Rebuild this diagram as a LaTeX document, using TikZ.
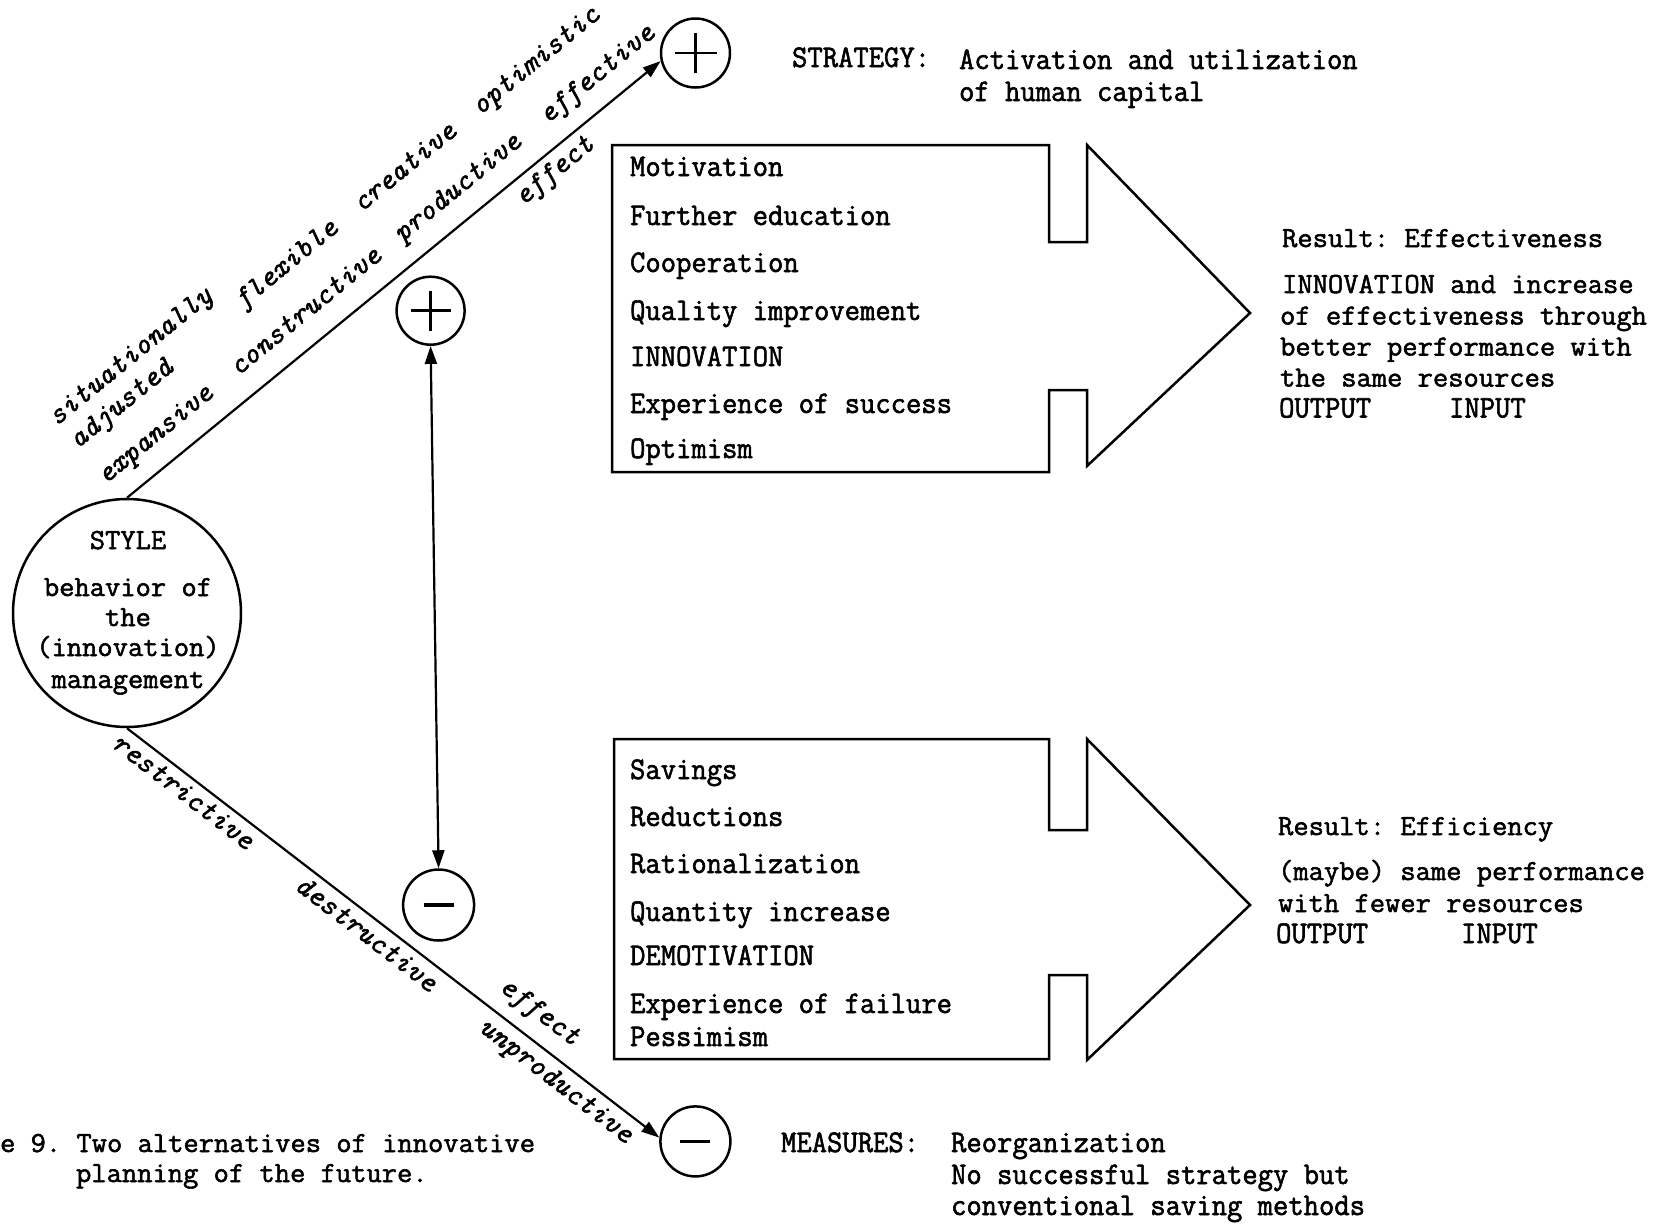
\documentclass[tikz,border=0pt]{standalone}
\usepackage{fontspec}
\usetikzlibrary{arrows.meta}
\newfontfamily\widefont[FakeStretch=1.02,FakeBold=1.8]{Latin Modern Mono}
\newfontfamily\narrowfont[FakeStretch=0.945,FakeBold=1.8]{Latin Modern Mono}
\frenchspacing
\begin{document}
\begin{tikzpicture}[x=1pt,y=-1pt,line width=2.2pt,
  ring/.style={circle,draw,line width=2.5pt,inner sep=0pt},
  boxtxt/.style={anchor=base west,inner sep=0pt,font=\narrowfont\frenchspacing\fontsize{31.5}{33}\selectfont},
  restxt/.style={anchor=base west,inner sep=0pt,font=\widefont\frenchspacing\fontsize{29.1}{31}\selectfont},
  circtxt/.style={anchor=base,inner sep=0pt,font=\widefont\fontsize{29.1}{31}\selectfont},
  lbl/.style={anchor=mid,inner sep=0pt,font=\widefont\itshape\fontsize{29.1}{31}\selectfont},
  tipend/.style={-{Triangle[length=18pt,width=12pt]}},
  tipboth/.style={{Triangle[length=18pt,width=12pt]}-{Triangle[length=18pt,width=12pt]}},
  shapeline/.style={line width=2.5pt,line join=miter}]
\useasboundingbox (0,0) rectangle (1657,1224);
\fill[white] (0,0) rectangle (1657,1224);

% circles
\node[ring,minimum size=228pt] (style) at (127,613) {};
\node[circtxt] (st1) at (128,549) {STYLE};
\node[circtxt] (st2) at (128,596) {behavior of};
\node[circtxt] (st3) at (128,626) {the};
\node[circtxt] (st4) at (128,656) {(innovation)};
\node[circtxt] (st5) at (128,688) {management};
\node[ring,minimum size=69pt] (plusA) at (695.5,53) {};
\node[ring,minimum size=68pt] (plusB) at (430.6,310.7) {};
\node[ring,minimum size=71pt] (minusA) at (438.6,905) {};
\node[ring,minimum size=70pt] (minusB) at (695.4,1141.4) {};

% signs
\draw[line width=2.8pt] ([xshift=-21pt]plusA.center) -- ([xshift=21pt]plusA.center);
\draw[line width=2.8pt] ([yshift=-20pt]plusA.center) -- ([yshift=20pt]plusA.center);
\draw[line width=2.8pt] ([xshift=-20pt]plusB.center) -- ([xshift=20pt]plusB.center);
\draw[line width=2.8pt] ([yshift=-20pt]plusB.center) -- ([yshift=20pt]plusB.center);
\draw[line width=3.6pt] ([xshift=-15pt]minusA.center) -- ([xshift=15pt]minusA.center);
\draw[line width=3.6pt] ([xshift=-15pt]minusB.center) -- ([xshift=15pt]minusB.center);

% connectors
\draw[tipend] (style.north) -- (plusA.193);
\draw[tipend] (style.south) -- (minusB.174);
\draw[tipboth] (plusB.south) -- (minusA.north);

% labels along upper line
\begin{scope}[shift={(style.north)},rotate=39.2]
  \node[lbl,rotate=39.2] (lsit) at (92,-102) {situationally};
  \node[lbl,rotate=39.2] (ladj) at (55,-71) {adjusted};
  \node[lbl,rotate=39.2] (lflex) at (271,-75) {flexible};
  \node[lbl,rotate=39.2] (lcrea) at (424,-75) {creative};
  \node[lbl,rotate=39.2] (lopt) at (593,-75) {optimistic};
  \node[lbl,rotate=39.2] (lexp) at (62,-26) {expansive};
  \node[lbl,rotate=39.2] (lcons) at (256,-26) {constructive};
  \node[lbl,rotate=39.2] (lprod) at (452,-26) {productive};
  \node[lbl,rotate=39.2] (leffv) at (632,-26) {effective};
  \node[lbl,rotate=39.2] (leffa) at (538,22) {effect};
\end{scope}
% labels along lower line
\begin{scope}[shift={(style.south)},rotate=-37.6]
  \node[lbl,rotate=-37.6] (lres) at (83,22) {restrictive};
  \node[lbl,rotate=-37.6] (ldes) at (315,23) {destructive};
  \node[lbl,rotate=-37.6] (leffb) at (500,-22) {effect};
  \node[lbl,rotate=-37.6] (lunp) at (555,23) {unproductive};
\end{scope}

% upper arrow box
\draw[shapeline] (612,145) -- (1049,145) -- (1049,242) -- (1087,242) -- (1087,145)
  -- (1250,313) -- (1087,466) -- (1087,390) -- (1049,390) -- (1049,472) -- (612,472) -- cycle;
% lower arrow box
\draw[shapeline] (614,739) -- (1049,739) -- (1049,830) -- (1087,830) -- (1087,739)
  -- (1250,905) -- (1087,1060) -- (1087,975) -- (1049,975) -- (1049,1059) -- (614,1059) -- cycle;

% upper box text
\node[boxtxt] (u1) at (629,176) {Motivation};
\node[boxtxt] (u2) at (629,225) {Further education};
\node[boxtxt] (u3) at (629,272) {Cooperation};
\node[boxtxt] (u4) at (629,320) {Quality improvement};
\node[boxtxt] (u5) at (629,366) {INNOVATION};
\node[boxtxt] (u6) at (629,413) {Experience of success};
\node[boxtxt] (u7) at (629,458) {Optimism};
% lower box text
\node[boxtxt] (d1) at (629,779) {Savings};
\node[boxtxt] (d2) at (629,826) {Reductions};
\node[boxtxt] (d3) at (629,873) {Rationalization};
\node[boxtxt] (d4) at (629,921) {Quantity increase};
\node[boxtxt] (d5) at (629,965) {DEMOTIVATION};
\node[boxtxt] (d6) at (629,1013) {Experience of failure};
\node[boxtxt] (d7) at (629,1046) {Pessimism};

% strategy
\node[boxtxt] (strat) at (791,67) {STRATEGY:};
\node[boxtxt] (strat1) at (958,69) {Activation and utilization};
\node[boxtxt] (strat2) at (958,101) {of human capital};
% measures
\node[boxtxt] (meas) at (780,1152) {MEASURES:};
\node[boxtxt] (meas1) at (950,1152) {Reorganization};
\node[boxtxt] (meas2) at (950,1184) {No successful strategy but};
\node[boxtxt] (meas3) at (950,1215) {conventional saving methods};

% results
\node[restxt] (r1) at (1281,247) {Result: Effectiveness};
\node[restxt] (r2) at (1281,293) {INNOVATION and increase};
\node[restxt] (r3) at (1279,324.5) {of effectiveness through};
\node[restxt] (r4) at (1279,355.5) {better performance with};
\node[restxt] (r5) at (1279,386.5) {the same resources};
\node[boxtxt] (r6) at (1278,417.5) {OUTPUT};
\node[boxtxt] (r7) at (1448,417.5) {INPUT};
\node[restxt] (s1) at (1277,835) {Result: Efficiency};
\node[restxt] (s2) at (1277,880) {(maybe) same performance};
\node[restxt] (s3) at (1277,912) {with fewer resources};
\node[boxtxt] (s4) at (1275,943) {OUTPUT};
\node[boxtxt] (s5) at (1460,943) {INPUT};

% caption
\node[restxt] (cap1) at (-1,1152) {e 9. Two alternatives of innovative};
\node[restxt] (cap2) at (75,1182) {planning of the future.};
\end{tikzpicture}
\end{document}
